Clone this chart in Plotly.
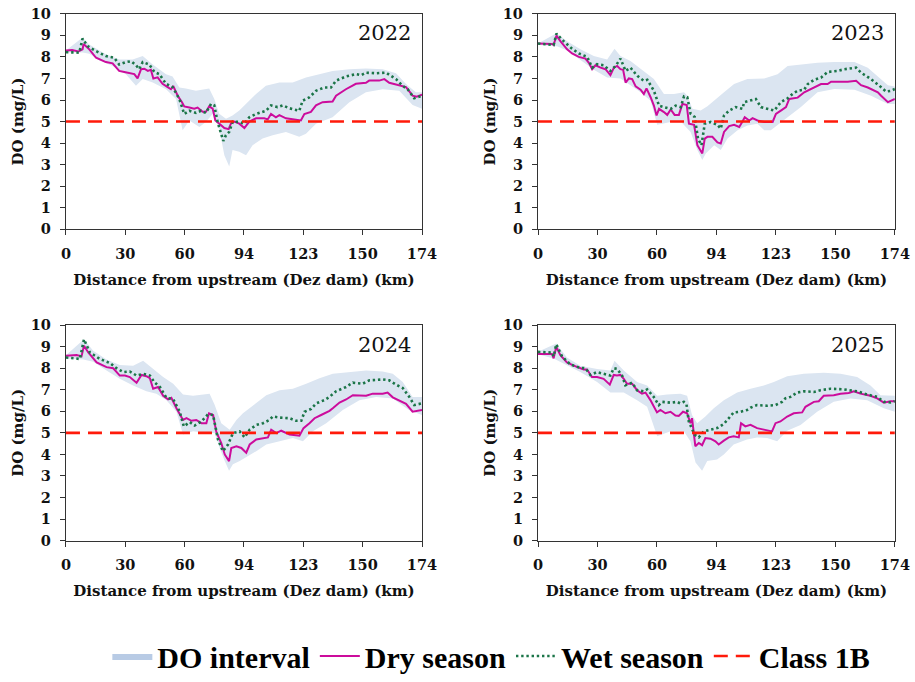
import plotly.graph_objects as go

# ---------------- data (positions along the river axis, DO in mg/L) ----------------
tick_pos = [0, 29, 58, 87, 116, 145, 174]
tick_labels = ["0", "30", "60", "94", "123", "150", "174"]
years = ["2022", "2023", "2024", "2025"]
class_1b_limit = 5

# 2022
dry_2022_pos = [0, 3, 6, 7.5, 8.1, 8.6, 11.4, 14.7, 19.5, 22.8, 26.0, 28.5, 31.8, 33.4, 35.0, 36.7, 38.3, 40.0, 41.5, 42.7, 44.8, 47.2, 49.7, 51.3, 52.4, 54.6, 56.7, 57.8, 60.3, 62.7, 64.3, 66.8, 68.4, 70.0, 71.7, 73.0, 75.0, 77.4, 79.5, 80.6, 82.3, 84.7, 87.2, 89.6, 92.9, 96.9, 98.6, 100.2, 102.6, 104.3, 107.5, 110.8, 114.8, 116.5, 119.7, 122.2, 125.4, 130.3, 132.0, 136.8, 141.7, 146.6, 148.2, 153.1, 155.6, 158.0, 162.9, 166.2, 169.4, 171.4, 174]
dry_2022_do = [8.3, 8.32, 8.25, 8.3, 8.35, 8.6, 8.35, 7.96, 7.76, 7.7, 7.35, 7.3, 7.25, 7.2, 7.0, 7.43, 7.45, 7.35, 7.4, 7.0, 7.05, 6.75, 6.6, 6.5, 6.65, 6.2, 5.9, 5.7, 5.65, 5.6, 5.65, 5.45, 5.45, 5.7, 5.6, 5.05, 4.9, 4.7, 4.65, 4.9, 5.0, 4.9, 4.7, 5.0, 5.15, 5.15, 5.1, 5.35, 5.2, 5.3, 5.15, 5.1, 5.05, 5.35, 5.45, 5.75, 5.9, 5.93, 6.2, 6.5, 6.75, 6.8, 6.9, 6.9, 6.97, 6.8, 6.7, 6.6, 6.2, 6.15, 6.25]
wet_2022_pos = [0, 3, 6.5, 8.1, 10.6, 14.7, 19.5, 23.6, 26.0, 29.3, 31.8, 34.2, 35.8, 37.5, 40.7, 43.2, 45.6, 48.9, 52.1, 55.4, 57.8, 60.3, 63.5, 66.0, 68.4, 70.9, 72.5, 74.1, 76.9, 78.2, 79.8, 81.5, 84.7, 87.2, 89.6, 92.9, 97.7, 100.2, 103.4, 105.9, 109.1, 114.0, 115.7, 118.9, 122.2, 126.2, 129.5, 132.0, 136.8, 141.7, 144.2, 146.6, 151.5, 156.4, 161.3, 164.5, 167.0, 170.2, 174]
wet_2022_do = [8.22, 8.22, 8.2, 8.85, 8.5, 8.27, 8.04, 7.96, 7.65, 7.76, 7.8, 7.62, 7.43, 7.76, 7.65, 7.3, 7.2, 6.75, 6.6, 6.05, 5.35, 5.5, 5.4, 5.5, 5.4, 5.82, 5.75, 4.98, 4.1, 4.37, 4.52, 5.0, 4.98, 4.9, 5.2, 5.35, 5.5, 5.75, 5.67, 5.75, 5.62, 5.5, 5.97, 6.12, 6.43, 6.58, 6.58, 6.9, 7.09, 7.2, 7.15, 7.27, 7.24, 7.27, 6.97, 6.66, 6.5, 6.08, 6.2]
upper_2022_pos = [0, 8.1, 11.4, 19.5, 26.1, 32.6, 37.5, 42.4, 48.9, 52.1, 55.4, 58.6, 63.5, 70.0, 72.5, 74.9, 78.2, 81.4, 84.7, 88.8, 92.9, 97.7, 104.3, 110.8, 117.3, 123.8, 130.3, 138.5, 146.6, 154.8, 161.3, 166.2, 171.0, 174]
upper_2022_do = [8.3, 8.9, 8.58, 8.12, 7.88, 7.88, 8.04, 7.65, 7.2, 7.09, 6.58, 6.54, 6.43, 6.54, 6.05, 5.36, 5.13, 5.28, 5.51, 5.9, 6.28, 6.66, 6.81, 6.81, 7.04, 7.2, 7.35, 7.43, 7.46, 7.43, 7.24, 6.74, 6.36, 6.36]
lower_2022_pos = [0, 8.1, 11.4, 16.3, 22.8, 29.3, 34.2, 37.5, 42.4, 48.9, 53.8, 57.0, 60.3, 65.2, 68.4, 71.7, 74.9, 77.4, 79.8, 81.4, 84.7, 88.0, 91.2, 96.1, 101.0, 107.5, 114.0, 117.3, 122.2, 130.3, 138.5, 146.6, 154.8, 162.9, 169.4, 174]
lower_2022_do = [8.2, 8.2, 8.15, 7.85, 7.58, 7.2, 6.66, 6.97, 6.81, 6.5, 6.05, 4.6, 5.05, 4.75, 4.98, 5.36, 4.67, 3.44, 2.91, 3.68, 3.6, 3.44, 3.9, 4.21, 4.36, 4.52, 4.29, 4.44, 4.9, 5.2, 5.9, 6.36, 6.5, 6.43, 5.77, 5.59]

# 2023
dry_2023_pos = [0, 3, 6.8, 7.6, 9.0, 10.9, 14.2, 16.6, 19.9, 23.1, 24.8, 26.4, 28.0, 30.5, 32.9, 35.3, 37.0, 38.6, 40.2, 41.5, 42.7, 44.3, 45.9, 47.6, 50.0, 51.6, 52.9, 54.9, 56.5, 57.8, 59.0, 61.4, 63.0, 64.7, 66.6, 68.7, 70.4, 72.5, 73.6, 76.1, 77.7, 80.1, 81.3, 82.6, 85.0, 87.5, 89.1, 90.7, 93.2, 95.6, 98.1, 99.7, 100.8, 103.0, 104.6, 107.0, 110.3, 114.4, 116.0, 118.4, 120.9, 122.5, 126.6, 129.8, 133.1, 135.5, 138.0, 141.2, 142.9, 147.7, 151.0, 155.1, 157.5, 160.8, 165.7, 167.3, 170.6, 174]
dry_2023_do = [8.62, 8.6, 8.6, 8.55, 8.99, 8.73, 8.35, 8.16, 8.0, 7.92, 7.73, 7.43, 7.61, 7.5, 7.43, 7.15, 7.5, 7.58, 7.43, 7.4, 6.81, 7.0, 6.97, 6.63, 6.48, 6.28, 6.54, 6.13, 5.74, 5.28, 5.59, 5.44, 5.31, 5.56, 5.31, 5.31, 5.82, 5.77, 4.9, 4.85, 3.9, 3.52, 4.21, 4.29, 4.29, 4.03, 3.98, 4.52, 4.79, 4.85, 4.75, 5.0, 5.2, 5.05, 5.16, 5.05, 4.98, 4.98, 5.36, 5.51, 5.67, 6.05, 6.11, 6.36, 6.51, 6.63, 6.74, 6.74, 6.85, 6.85, 6.85, 6.89, 6.69, 6.58, 6.36, 6.2, 5.9, 6.05]
wet_2023_pos = [0, 3, 7.6, 9.0, 12.5, 16.6, 19.9, 24.0, 26.4, 28.8, 32.1, 35.3, 37.8, 40.2, 42.7, 45.1, 48.4, 51.6, 53.3, 56.5, 59.0, 61.4, 64.7, 67.1, 69.6, 71.2, 72.8, 74.4, 76.4, 78.0, 79.7, 81.3, 84.2, 87.5, 89.1, 90.7, 93.2, 96.4, 99.7, 100.5, 103.8, 106.2, 108.7, 112.7, 115.2, 118.4, 121.7, 124.1, 126.6, 129.8, 131.5, 134.7, 138.0, 141.2, 146.1, 149.4, 155.1, 157.5, 162.4, 166.5, 169.7, 172.2, 174]
wet_2023_do = [8.62, 8.6, 8.55, 9.08, 8.73, 8.38, 8.16, 8.0, 7.5, 7.66, 7.61, 7.35, 7.58, 7.92, 7.35, 7.5, 7.12, 6.89, 6.94, 6.43, 5.74, 5.67, 5.59, 5.74, 5.67, 6.17, 6.13, 5.36, 5.21, 4.21, 3.9, 4.9, 4.98, 4.85, 4.67, 5.28, 5.51, 5.67, 5.59, 5.9, 5.97, 6.05, 5.67, 5.59, 5.51, 5.9, 6.08, 6.28, 6.43, 6.48, 6.74, 6.94, 7.04, 7.3, 7.35, 7.43, 7.5, 7.27, 6.97, 6.66, 6.39, 6.43, 6.51]
upper_2023_pos = [0, 9.0, 14.2, 20.7, 27.2, 33.7, 37.3, 40.2, 45.1, 51.6, 56.5, 61.4, 66.3, 71.2, 72.8, 75.3, 79.3, 82.6, 86.7, 90.7, 95.6, 102.1, 110.3, 116.8, 121.7, 129.8, 136.3, 144.5, 154.3, 160.8, 166.5, 170.6, 174]
upper_2023_do = [8.62, 9.1, 8.73, 8.35, 8.04, 7.88, 8.38, 8.04, 7.81, 7.35, 6.97, 6.28, 6.28, 6.36, 6.2, 5.59, 5.51, 5.71, 6.05, 6.36, 6.74, 6.97, 7.0, 7.2, 7.58, 7.66, 7.73, 7.76, 7.76, 7.5, 7.04, 6.69, 6.63]
lower_2023_pos = [0, 9.3, 14.2, 20.7, 27.2, 33.7, 40.2, 45.1, 50.0, 54.9, 58.1, 64.7, 69.6, 74.4, 77.7, 80.1, 81.8, 85.9, 89.1, 92.4, 97.3, 102.1, 107.0, 110.3, 113.5, 116.8, 121.7, 128.2, 136.3, 144.5, 154.3, 162.4, 170.6, 174]
lower_2023_do = [8.55, 8.5, 8.3, 7.86, 7.4, 7.05, 7.0, 6.69, 6.36, 5.97, 4.85, 4.98, 5.0, 4.52, 3.68, 3.22, 3.52, 3.9, 3.68, 4.21, 4.6, 4.82, 4.9, 4.6, 4.6, 4.82, 5.2, 5.67, 6.36, 6.51, 6.48, 6.2, 5.82, 5.82]

# 2024
dry_2024_pos = [0, 5.2, 7.6, 8.8, 10.9, 15.0, 19.8, 23.1, 26.3, 28.8, 31.2, 34.5, 36.9, 39.3, 41.0, 42.6, 45.0, 47.5, 49.9, 51.5, 54.0, 57.2, 58.9, 61.3, 63.7, 66.2, 68.6, 69.9, 71.9, 73.5, 75.9, 77.6, 79.7, 80.8, 83.3, 85.7, 88.1, 89.8, 93.0, 96.3, 98.7, 100.3, 102.8, 105.2, 109.3, 114.1, 116.1, 119.0, 121.5, 124.7, 128.8, 130.4, 133.7, 136.9, 140.2, 146.7, 149.9, 154.8, 157.2, 159.7, 162.9, 166.2, 169.4, 174]
dry_2024_do = [8.58, 8.61, 8.55, 9.04, 8.73, 8.27, 8.05, 8.0, 7.66, 7.66, 7.59, 7.33, 7.69, 7.63, 7.54, 7.05, 7.13, 6.72, 6.56, 6.63, 6.14, 5.6, 5.68, 5.56, 5.6, 5.45, 5.45, 5.91, 5.83, 5.04, 4.53, 4.0, 3.69, 4.3, 4.38, 4.3, 4.08, 4.46, 4.69, 4.76, 4.79, 5.15, 4.99, 5.1, 4.92, 4.87, 5.22, 5.45, 5.68, 5.83, 6.02, 6.14, 6.41, 6.55, 6.75, 6.72, 6.82, 6.82, 6.87, 6.65, 6.5, 6.35, 5.98, 6.06]
wet_2024_pos = [0, 6.8, 8.8, 11.7, 16.6, 21.5, 24.7, 28.0, 31.2, 34.5, 37.7, 41.0, 43.4, 45.9, 49.1, 52.4, 55.6, 57.6, 60.5, 62.9, 66.2, 69.4, 71.9, 74.3, 76.7, 79.2, 81.6, 84.9, 87.3, 89.8, 93.0, 96.3, 99.5, 101.1, 104.4, 109.3, 112.5, 115.0, 116.6, 119.8, 122.3, 126.3, 128.8, 132.0, 136.9, 140.2, 145.0, 148.3, 154.8, 158.0, 161.3, 164.6, 167.8, 170.2, 174]
wet_2024_do = [8.5, 8.43, 9.34, 8.73, 8.43, 8.24, 8.0, 7.82, 7.85, 7.66, 7.74, 7.66, 7.33, 7.13, 6.63, 6.56, 5.98, 5.3, 5.5, 5.34, 5.53, 5.86, 5.83, 4.69, 4.15, 4.46, 4.99, 5.07, 4.79, 5.15, 5.37, 5.45, 5.6, 5.76, 5.71, 5.68, 5.56, 5.56, 5.98, 6.11, 6.37, 6.52, 6.67, 6.93, 7.13, 7.33, 7.28, 7.44, 7.48, 7.44, 7.24, 7.08, 6.67, 6.29, 6.37]
upper_2024_pos = [0, 8.8, 13.3, 19.8, 26.3, 32.8, 37.7, 42.6, 47.5, 52.4, 57.2, 62.1, 70.2, 72.7, 75.9, 80.0, 83.3, 86.5, 91.4, 97.9, 104.4, 110.9, 117.4, 123.9, 130.4, 138.5, 146.7, 154.8, 159.7, 164.6, 169.4, 174]
upper_2024_do = [8.6, 9.35, 8.81, 8.4, 8.15, 8.12, 8.35, 7.97, 7.59, 7.28, 6.78, 6.72, 6.82, 6.29, 5.45, 5.15, 5.6, 5.91, 6.29, 6.75, 6.98, 7.05, 7.28, 7.54, 7.74, 7.82, 7.89, 7.85, 7.74, 7.36, 6.67, 6.67]
lower_2024_pos = [0, 8.5, 13.3, 19.8, 26.3, 32.8, 39.3, 44.2, 49.1, 54.0, 57.2, 62.1, 68.6, 72.7, 75.1, 77.6, 79.7, 81.6, 84.9, 89.0, 93.0, 97.9, 104.4, 110.9, 115.8, 120.7, 127.2, 135.3, 143.4, 151.6, 159.7, 167.8, 174]
lower_2024_do = [8.45, 8.4, 8.3, 7.89, 7.51, 7.2, 6.93, 6.82, 6.52, 5.98, 4.92, 5.07, 4.99, 4.99, 4.3, 3.69, 3.24, 3.54, 3.69, 3.92, 4.15, 4.46, 4.61, 4.76, 4.61, 5.07, 5.45, 6.06, 6.52, 6.67, 6.6, 6.05, 5.83]

# 2025
dry_2025_pos = [0, 6.8, 7.6, 8.9, 10.9, 14.1, 17.4, 22.3, 23.9, 26.3, 28.8, 32.0, 35.0, 36.9, 38.5, 40.2, 41.8, 43.4, 45.9, 48.3, 50.7, 52.4, 54.8, 58.0, 59.7, 62.1, 64.6, 67.0, 68.6, 70.7, 72.7, 74.3, 75.1, 76.7, 78.4, 80.0, 81.6, 84.1, 86.5, 88.1, 90.6, 93.0, 95.4, 97.9, 99.0, 101.1, 103.6, 106.8, 110.1, 114.1, 115.8, 118.2, 121.5, 124.7, 128.8, 130.4, 134.5, 136.9, 139.3, 144.2, 147.5, 151.5, 154.0, 157.2, 162.1, 165.4, 168.6, 171.8, 174]
dry_2025_do = [8.66, 8.66, 8.46, 9.0, 8.61, 8.27, 8.12, 7.94, 7.94, 7.59, 7.59, 7.51, 7.24, 7.69, 7.66, 7.69, 7.51, 7.28, 7.28, 6.98, 6.82, 6.87, 6.52, 5.95, 6.06, 5.91, 5.98, 5.8, 5.79, 5.98, 5.91, 5.45, 5.68, 4.38, 4.53, 4.43, 4.76, 4.73, 4.61, 4.46, 4.64, 4.79, 4.84, 4.79, 5.45, 5.3, 5.37, 5.22, 5.15, 5.07, 5.45, 5.53, 5.76, 5.91, 5.95, 6.21, 6.44, 6.47, 6.72, 6.75, 6.82, 6.85, 6.93, 6.82, 6.72, 6.6, 6.4, 6.47, 6.47]
wet_2025_pos = [0, 6.8, 7.6, 8.9, 11.7, 15.8, 20.6, 23.1, 25.5, 28.8, 32.0, 35.3, 36.9, 38.5, 41.0, 42.6, 45.9, 48.3, 51.5, 53.2, 56.4, 58.9, 60.5, 64.6, 67.8, 69.4, 71.1, 72.4, 73.5, 76.3, 78.4, 80.8, 84.1, 87.3, 90.6, 93.0, 95.4, 98.7, 101.9, 103.6, 106.8, 111.7, 115.8, 119.0, 120.6, 123.1, 126.3, 129.6, 134.5, 137.7, 142.6, 149.1, 152.4, 155.6, 160.5, 165.4, 168.6, 171.8, 174]
wet_2025_do = [8.76, 8.73, 8.55, 9.11, 8.55, 8.17, 8.02, 8.0, 7.69, 7.82, 7.74, 7.66, 8.0, 7.97, 7.66, 7.21, 7.33, 6.98, 6.93, 7.02, 6.67, 6.29, 6.44, 6.4, 6.44, 6.37, 6.44, 6.32, 5.53, 4.92, 4.79, 5.07, 5.15, 5.22, 5.41, 5.68, 5.95, 5.98, 6.06, 6.17, 6.29, 6.26, 6.29, 6.44, 6.6, 6.67, 6.87, 6.93, 6.9, 6.98, 7.05, 7.02, 6.98, 6.93, 6.78, 6.67, 6.44, 6.41, 6.47]
upper_2025_pos = [0, 8.9, 14.1, 20.6, 28.8, 35.3, 37.3, 41.8, 48.3, 53.2, 58.1, 62.9, 69.4, 72.7, 75.1, 77.6, 81.6, 85.7, 90.6, 97.1, 103.6, 110.1, 115.0, 121.5, 129.6, 139.3, 147.5, 155.6, 162.1, 167.0, 174]
upper_2025_do = [8.76, 9.15, 8.5, 8.12, 7.97, 7.89, 8.35, 7.89, 7.36, 7.2, 6.72, 6.78, 6.82, 6.72, 5.83, 5.45, 5.76, 6.14, 6.52, 6.87, 7.05, 7.2, 7.36, 7.63, 7.74, 7.79, 7.74, 7.59, 7.2, 6.75, 6.72]
lower_2025_pos = [0, 7.6, 14.1, 20.6, 28.8, 35.3, 41.8, 48.3, 53.2, 58.1, 64.6, 71.1, 74.3, 76.8, 80.0, 82.5, 87.3, 90.6, 95.4, 101.9, 106.8, 111.7, 116.6, 121.5, 128.0, 136.1, 144.2, 152.4, 160.5, 168.6, 174]
lower_2025_do = [8.65, 8.45, 8.12, 7.82, 7.36, 6.87, 6.87, 6.52, 6.21, 4.84, 5.07, 5.07, 4.61, 3.62, 3.24, 3.69, 3.77, 4.0, 4.46, 4.69, 4.79, 4.76, 4.61, 5.1, 5.37, 5.98, 6.44, 6.6, 6.52, 6.14, 5.98]

series = {
    "2022": (dry_2022_pos, dry_2022_do, wet_2022_pos, wet_2022_do, upper_2022_pos, upper_2022_do, lower_2022_pos, lower_2022_do),
    "2023": (dry_2023_pos, dry_2023_do, wet_2023_pos, wet_2023_do, upper_2023_pos, upper_2023_do, lower_2023_pos, lower_2023_do),
    "2024": (dry_2024_pos, dry_2024_do, wet_2024_pos, wet_2024_do, upper_2024_pos, upper_2024_do, lower_2024_pos, lower_2024_do),
    "2025": (dry_2025_pos, dry_2025_do, wet_2025_pos, wet_2025_do, upper_2025_pos, upper_2025_do, lower_2025_pos, lower_2025_do),
}
for yr, s in series.items():
    for a, b in zip(s[0::2], s[1::2]):
        assert len(a) == len(b), (yr, len(a), len(b))

# ---------------- styles ----------------
BAND = "#dbe5f1"
BAND_KEY = "#b8cbe5"
DRY = "#cc0c9c"
WET = "#1b7548"
RED = "#ff1a0a"
AXC = "#333333"
TICKFONT = dict(family="DejaVu Serif", size=14.5, color="#111111", weight="bold")
TITLEFONT = dict(family="DejaVu Serif", size=15, color="#111111", weight="bold")

domains = {
    "2022": ([0.0721, 0.4612], [0.6598, 0.9795]),
    "2023": ([0.588, 0.978], [0.6598, 0.9795]),
    "2024": ([0.0721, 0.4612], [0.1979, 0.5176]),
    "2025": ([0.588, 0.978], [0.1979, 0.5176]),
}

fig = go.Figure()
layout = dict(
    width=915, height=682,
    margin=dict(l=0, r=0, t=0, b=0),
    paper_bgcolor="white", plot_bgcolor="white",
    showlegend=True,
    legend=dict(orientation="h", x=0.537, xanchor="center", y=0.026, yanchor="middle",
                font=dict(family="Liberation Serif", size=30, color="#000000", weight="bold"),
                itemwidth=40, tracegroupgap=0, bgcolor="rgba(0,0,0,0)"),
    annotations=[],
)

# legend key for the interval band (legend entry only)
fig.add_trace(go.Scatter(
    x=[None], y=[None], fill="toself", fillcolor=BAND_KEY, mode="lines", line=dict(width=0),
    name="DO interval", showlegend=True, hoverinfo="skip"))

for i, yr in enumerate(years):
    n = "" if i == 0 else str(i + 1)
    xa, ya = "x" + n, "y" + n
    dpos, ddo, wpos, wdo, upos, udo, lpos, ldo = series[yr]
    first = i == 0
    fig.add_trace(go.Scatter(
        x=list(upos) + list(reversed(lpos)), y=list(udo) + list(reversed(ldo)),
        fill="toself", fillcolor=BAND, line=dict(width=0), mode="lines",
        name="DO interval", showlegend=False, hoverinfo="skip",
        xaxis=xa, yaxis=ya))
    fig.add_trace(go.Scatter(
        x=dpos, y=ddo, mode="lines", line=dict(color=DRY, width=2),
        name="Dry season", legendgroup="dry", showlegend=first, xaxis=xa, yaxis=ya))
    fig.add_trace(go.Scatter(
        x=wpos, y=wdo, mode="lines", line=dict(color=WET, width=2.6, dash="2.4px,2.8px"),
        name="Wet season", legendgroup="wet", showlegend=first, xaxis=xa, yaxis=ya))
    fig.add_trace(go.Scatter(
        x=[tick_pos[0], tick_pos[-1]], y=[class_1b_limit, class_1b_limit], mode="lines",
        line=dict(color=RED, width=2.6, dash="14px,8px"),
        name="Class 1B", legendgroup="cls", showlegend=first, xaxis=xa, yaxis=ya))

    xd, yd = domains[yr]
    layout["xaxis" + n] = dict(
        domain=xd, anchor=ya, range=[tick_pos[0], tick_pos[-1]],
        tickmode="array", tickvals=tick_pos, ticktext=tick_labels,
        showline=True, mirror=True, linecolor=AXC, linewidth=1.3,
        ticks="outside", ticklen=5, tickcolor=AXC, tickwidth=1.2,
        showgrid=False, zeroline=False, tickfont=TICKFONT, ticklabelstandoff=6,
        title=dict(text="Distance from upstream (Dez dam) (km)", font=TITLEFONT, standoff=13),
        automargin=False, fixedrange=True)
    layout["yaxis" + n] = dict(
        domain=yd, anchor=xa, range=[0, 10], dtick=1, tick0=0,
        showline=True, mirror=True, linecolor=AXC, linewidth=1.3,
        ticks="outside", ticklen=5, tickcolor=AXC, tickwidth=1.2,
        showgrid=False, zeroline=False, tickfont=TICKFONT, ticklabelstandoff=6,
        title=dict(text="DO (mg/L)", font=TITLEFONT, standoff=3),
        automargin=False, fixedrange=True)
    layout["annotations"].append(dict(
        text=yr, xref=xa + " domain", yref=ya + " domain", x=0.975, y=0.91,
        xanchor="right", yanchor="middle", showarrow=False,
        font=dict(family="DejaVu Serif", size=21, color="#111111")))

fig.update_layout(**layout)
fig.write_html("out.html")
